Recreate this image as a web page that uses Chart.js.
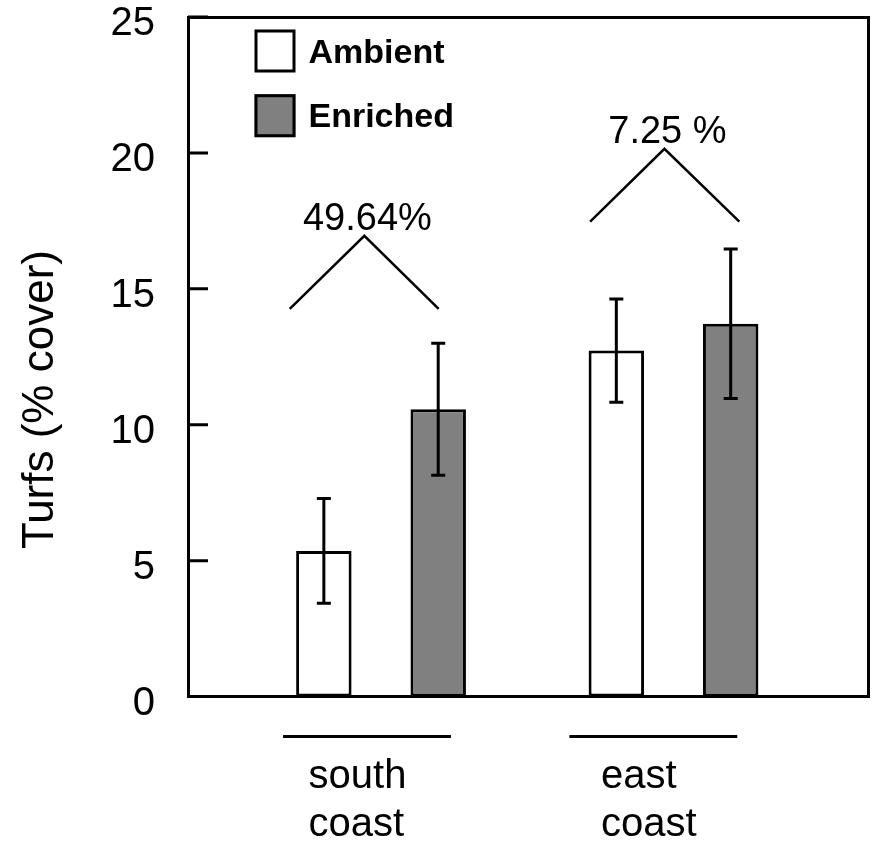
<!DOCTYPE html>
<html>
<head>
<meta charset="utf-8">
<script src="https://cdn.jsdelivr.net/npm/chart.js@4.4.1/dist/chart.umd.min.js"></script>
<style>
  html, body { margin: 0; padding: 0; background: #fff; }
</style>
</head>
<body>
<canvas id="turfChart" width="878" height="851"></canvas>
<script>
const categories = ['south coast', 'east coast'];
const seriesNames = ['Ambient', 'Enriched'];
const ambientMean = [5.36, 12.73];
const ambientErr = [1.93, 1.9];
const enrichedMean = [10.57, 13.72];
const enrichedErr = [2.43, 2.75];
const yTicks = [0, 5, 10, 15, 20, 25];

// percent change brackets above each group (x in group units, y in % cover)
const bracketText = ['49.64%', '7.25 %'];
const bracketLeftX = [0.688, 1.715];
const bracketPeakX = [0.943, 1.969];
const bracketRightX = [1.197, 2.225];
const bracketBaseY = [14.26, 17.47];
const bracketPeakY = [16.95, 20.15];

// short lines drawn under the axis, above each group label
const groupLineStart = [0.665, 1.644];
const groupLineEnd = [1.239, 2.218];

const FONT = "'Liberation Sans', Arial, sans-serif";
Chart.defaults.font.family = FONT;
Chart.defaults.color = '#000';

const extras = {
    id: 'extras',
    afterDatasetsDraw(chart) {
        const { ctx, chartArea, scales: { x, y } } = chart;
        ctx.save();
        ctx.strokeStyle = '#000000';
        ctx.lineCap = 'butt';
        ctx.lineWidth = 3;

        // error bars
        [[ambientMean, ambientErr], [enrichedMean, enrichedErr]].forEach(([mean, err], d) => {
            chart.getDatasetMeta(d).data.forEach((bar, i) => {
                const top = y.getPixelForValue(mean[i] + err[i]);
                const bot = y.getPixelForValue(mean[i] - err[i]);
                ctx.beginPath();
                ctx.moveTo(bar.x, top); ctx.lineTo(bar.x, bot);
                ctx.moveTo(bar.x - 7, top); ctx.lineTo(bar.x + 7, top);
                ctx.moveTo(bar.x - 7, bot); ctx.lineTo(bar.x + 7, bot);
                ctx.stroke();
            });
        });

        // brackets with percent change
        ctx.lineWidth = 2.5;
        ctx.font = '38px ' + FONT;
        ctx.fillStyle = '#000';
        ctx.textAlign = 'center';
        ctx.textBaseline = 'alphabetic';
        bracketText.forEach((t, i) => {
            const px = x.getPixelForValue(bracketPeakX[i]);
            const py = y.getPixelForValue(bracketPeakY[i]);
            ctx.beginPath();
            ctx.moveTo(x.getPixelForValue(bracketLeftX[i]), y.getPixelForValue(bracketBaseY[i]));
            ctx.lineTo(px, py);
            ctx.lineTo(x.getPixelForValue(bracketRightX[i]), y.getPixelForValue(bracketBaseY[i]));
            ctx.stroke();
            ctx.fillText(t, px + 3, py - 5.5);
        });

        // lines over the group labels
        ctx.lineWidth = 3;
        groupLineStart.forEach((s, i) => {
            ctx.beginPath();
            ctx.moveTo(x.getPixelForValue(s), chartArea.bottom + 40);
            ctx.lineTo(x.getPixelForValue(groupLineEnd[i]), chartArea.bottom + 40);
            ctx.stroke();
        });

        // legend, top left inside the frame
        ctx.textAlign = 'left';
        ctx.font = 'bold 34px ' + FONT;
        chart.data.datasets.forEach((ds, i) => {
            const bx = chartArea.left + 66.5;
            const by = chartArea.top + 12.5 + i * 64.7;
            ctx.fillStyle = ds.backgroundColor;
            ctx.fillRect(bx, by, 41, 43);
            ctx.lineWidth = 3;
            ctx.strokeRect(bx + 1.5, by + 1.5, 38, 40);
            ctx.fillStyle = '#000';
            ctx.fillText(ds.label, bx + 54, by + 33);
        });
        ctx.restore();
    },
    afterDraw(chart) {
        // inward tick marks on the y axis
        const { ctx, chartArea, scales: { y } } = chart;
        ctx.save();
        ctx.strokeStyle = '#000000';
        ctx.lineWidth = 3;
        ctx.beginPath();
        yTicks.forEach(v => {
            const py = y.getPixelForValue(v);
            ctx.moveTo(chartArea.left, py);
            ctx.lineTo(chartArea.left + 20, py);
        });
        ctx.stroke();
        ctx.restore();
    }
};

const ctx = document.getElementById('turfChart').getContext('2d');
const turfChart = new Chart(ctx, {
    type: 'bar',
    data: {
        datasets: [{
            label: seriesNames[0],
            data: ambientMean.map((v, i) => ({ x: i + 1, y: v })),
            backgroundColor: '#ffffff',
            borderColor: '#000000',
            borderWidth: 3,
            borderSkipped: false
        }, {
            label: seriesNames[1],
            data: enrichedMean.map((v, i) => ({ x: i + 1, y: v })),
            backgroundColor: '#808080',
            borderColor: '#000000',
            borderWidth: 3,
            borderSkipped: false
        }]
    },
    options: {
        responsive: false,
        animation: false,
        categoryPercentage: 0.782,
        barPercentage: 0.485,
        layout: { padding: { left: 0, right: 10, top: 17, bottom: 0 } },
        plugins: {
            legend: { display: false },
            tooltip: { enabled: false }
        },
        scales: {
            x: {
                type: 'linear',
                position: 'bottom',
                min: 0.34,
                max: 2.665,
                bounds: 'data',
                offset: false,
                afterBuildTicks: (s) => { s.ticks = categories.map((c, i) => ({ value: i + 1 })); },
                afterFit: (s) => { s.height = 154.4; s.paddingLeft = 0; s.paddingRight = 0; },
                grid: { display: false, drawTicks: false, lineWidth: 3, offset: false },
                border: { display: true, color: '#000', width: 3 },
                ticks: {
                    autoSkip: false,
                    maxRotation: 0,
                    align: 'start',
                    labelOffset: -72.5,
                    padding: 56,
                    font: { size: 40, lineHeight: 1.2 },
                    callback: (value, index) => categories[index].split(' ')
                }
            },
            y: {
                min: 0,
                max: 25,
                afterBuildTicks: (s) => { s.ticks = yTicks.map(v => ({ value: v })); },
                afterFit: (s) => { s.width = 188; s.paddingTop = 0; s.paddingBottom = 0; },
                grid: { display: false, drawTicks: false, lineWidth: 3 },
                border: { display: true, color: '#000', width: 3 },
                ticks: {
                    padding: 33,
                    labelOffset: 7,
                    font: { size: 40 }
                },
                title: {
                    display: true,
                    text: 'Turfs (% cover)       ',
                    font: { size: 44 },
                    padding: { top: 14, bottom: 0 }
                }
            },
            x2: {
                type: 'linear',
                position: 'top',
                afterFit: (s) => { s.height = 0; s.paddingLeft = 0; s.paddingRight = 0; },
                grid: { display: false, drawTicks: false, lineWidth: 3 },
                border: { display: true, color: '#000', width: 3 },
                ticks: { display: false }
            },
            y2: {
                type: 'linear',
                position: 'right',
                afterFit: (s) => { s.width = 0; s.paddingTop = 0; s.paddingBottom = 0; },
                grid: { display: false, drawTicks: false, lineWidth: 3 },
                border: { display: true, color: '#000', width: 3 },
                ticks: { display: false }
            }
        }
    },
    plugins: [extras]
});
</script>
</body>
</html>
